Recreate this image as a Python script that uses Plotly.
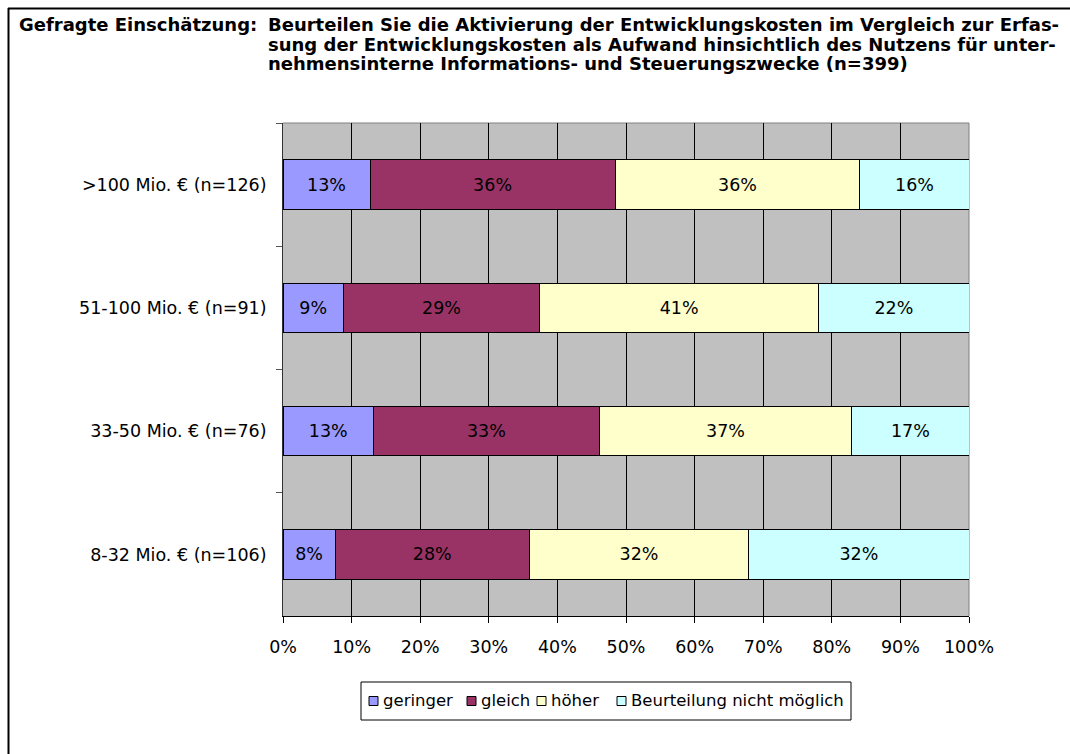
import plotly.graph_objects as go

# Survey shares (%) per company-size group, listed top to bottom
groups = [">100 Mio. € (n=126)", "51-100 Mio. € (n=91)",
          "33-50 Mio. € (n=76)", "8-32 Mio. € (n=106)"]
series_names = ["geringer", "gleich", "höher", "Beurteilung nicht möglich"]
geringer = [12.7, 8.8, 13.2, 7.6]
gleich = [35.7, 28.6, 32.9, 28.3]
hoeher = [35.7, 40.7, 36.8, 32.0]
nicht_moeglich = [15.9, 21.9, 17.1, 32.1]
series_values = [geringer, gleich, hoeher, nicht_moeglich]
colors = ["#9999FF", "#993366", "#FFFFCC", "#CCFFFF"]
x_ticks = list(range(0, 101, 10))
x_ticktext = [f"{v}%" for v in x_ticks]

title_head = "Gefragte Einschätzung:"
title_lines = [
    "Beurteilen Sie die Aktivierung der Entwicklungskosten im Vergleich zur Erfas-",
    "sung der Entwicklungskosten als Aufwand hinsichtlich des Nutzens für unter-",
    "nehmensinterne Informations- und Steuerungszwecke (n=399)",
]

# Page geometry (pixels)
W, H = 1070, 754
L, R, T, B = 283, 101, 123, 138
PW, PH = W - L - R, H - T - B


def fx(px):
    return (px - L) / PW


def fy(py):
    return (H - B - py) / PH


FONT = "DejaVu Sans"
FS = 17.5
TITLE_FS = 18
LEGEND_FS = 16.5

fig = go.Figure()
for name, vals, col in zip(series_names, series_values, colors):
    fig.add_trace(go.Bar(
        y=groups, x=vals, name=name, orientation="h",
        marker=dict(color=col, line=dict(color="black", width=1)),
        texttemplate="%{x:.0f}%", textposition="inside",
        insidetextanchor="middle", textangle=0,
        textfont=dict(family=FONT, size=FS, color="black"),
        showlegend=False,
    ))

shapes = []
annotations = []

# plot-area border (top and right in grey)
shapes.append(dict(type="line", xref="paper", yref="paper", x0=0, x1=1, y0=1, y1=1,
                   line=dict(color="#808080", width=1), layer="below"))
shapes.append(dict(type="line", xref="paper", yref="paper", x0=1, x1=1, y0=0, y1=1,
                   line=dict(color="#808080", width=1), layer="below"))

# outer frame
shapes.append(dict(type="line", xref="paper", yref="paper", x0=fx(8), x1=fx(1080),
                   y0=fy(8.5), y1=fy(8.5), line=dict(color="black", width=2)))
shapes.append(dict(type="line", xref="paper", yref="paper", x0=fx(8.5), x1=fx(8.5),
                   y0=fy(8), y1=fy(770), line=dict(color="black", width=2)))

# title block
title_font = dict(family=FONT, size=TITLE_FS, color="black", weight="bold")
annotations.append(dict(text=title_head, xref="paper", yref="paper", x=fx(18), y=fy(24),
                        xanchor="left", yanchor="middle", showarrow=False,
                        borderpad=0, font=title_font))
for i, line in enumerate(title_lines):
    annotations.append(dict(text=line, xref="paper", yref="paper", x=fx(267), y=fy(24 + 20 * i),
                            xanchor="left", yanchor="middle", showarrow=False,
                            borderpad=0, font=title_font))

# legend box with swatches
shapes.append(dict(type="rect", xref="paper", yref="paper", x0=fx(361), x1=fx(851),
                   y0=fy(682), y1=fy(720), line=dict(color="black", width=1),
                   fillcolor="white"))
swatch_x = [369, 467, 537, 617]
for sx, name, col in zip(swatch_x, series_names, colors):
    shapes.append(dict(type="rect", xref="paper", yref="paper", x0=fx(sx), x1=fx(sx + 9),
                       y0=fy(696.5), y1=fy(705.5), line=dict(color="black", width=1),
                       fillcolor=col))
    annotations.append(dict(text=name, xref="paper", yref="paper", x=fx(sx + 13), y=fy(700),
                            xanchor="left", yanchor="middle", showarrow=False,
                            borderpad=0,
                            font=dict(family=FONT, size=LEGEND_FS, color="black")))

fig.update_layout(
    width=W, height=H,
    margin=dict(l=L, r=R, t=T, b=B, pad=0),
    paper_bgcolor="white", plot_bgcolor="#C0C0C0",
    barmode="stack", bargap=0.6,
    font=dict(family=FONT, size=FS, color="black"),
    shapes=shapes, annotations=annotations,
    xaxis=dict(range=[0, 100], tickvals=x_ticks, ticktext=x_ticktext,
               showgrid=True, gridcolor="black", gridwidth=1,
               showline=True, linecolor="black", linewidth=1,
               ticks="outside", ticklen=6, tickcolor="black",
               ticklabelstandoff=9,
               zeroline=False, fixedrange=True),
    yaxis=dict(categoryorder="array", categoryarray=groups, autorange="reversed",
               tickson="boundaries", ticks="outside", ticklen=6, tickcolor="#555555",
               showgrid=False, showline=True, linecolor="#333333", linewidth=1,
               ticklabelstandoff=12, zeroline=False, fixedrange=True),
)

fig.write_html("out.html")
